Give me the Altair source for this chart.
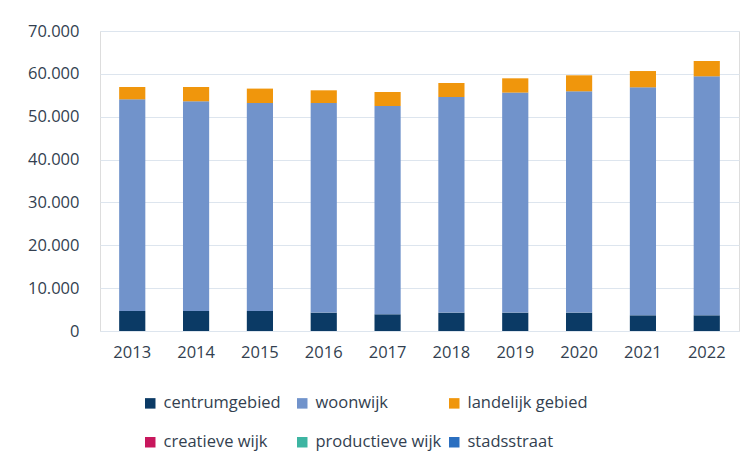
import altair as alt
import pandas as pd

years = ["2013", "2014", "2015", "2016", "2017", "2018", "2019", "2020", "2021", "2022"]
centrumgebied = [4670, 4670, 4670, 4290, 3900, 4290, 4290, 4290, 3660, 3660]
woonwijk = [49390, 48930, 48530, 48910, 48600, 50310, 51340, 51640, 53200, 55770]
landelijk = [2870, 3330, 3360, 2960, 3270, 3270, 3330, 3730, 3800, 3570]
creatieve = [0] * 10
productieve = [0] * 10
stadsstraat = [0] * 10

categories = ["centrumgebied", "woonwijk", "landelijk gebied",
              "creatieve wijk", "productieve wijk", "stadsstraat"]
colors = ["#0b3a65", "#7193cb", "#f0960c", "#c8175d", "#3db5a2", "#2b6fc0"]
series = [centrumgebied, woonwijk, landelijk, creatieve, productieve, stadsstraat]

# legend is filled column by column (2 rows), so interleave the rows
legend_order = [0, 3, 1, 4, 2, 5]
dom = [categories[i] for i in legend_order]
rng = [colors[i] for i in legend_order]

rows = []
for ci, (cat, vals) in enumerate(zip(categories, series)):
    for y, v in zip(years, vals):
        rows.append({"jaar": y, "categorie": cat, "waarde": v, "volg": ci})
df = pd.DataFrame(rows)

txt = "#333f50"
font = "Open Sans"

chart = alt.Chart(df).mark_bar().encode(
    x=alt.X("jaar:N", sort=years, title=None,
            scale=alt.Scale(paddingInner=0.59, paddingOuter=0.3),
            axis=alt.Axis(labelAngle=0, domain=False, ticks=False, labelPadding=13,
                          labelFontSize=16.5, labelColor=txt, labelFont=font)),
    y=alt.Y("waarde:Q", title=None, stack="zero",
            scale=alt.Scale(domain=[0, 70000]),
            axis=alt.Axis(values=[0, 10000, 20000, 30000, 40000, 50000, 60000, 70000],
                          format=",.0f", domain=False, ticks=False, labelPadding=21,
                          labelFontSize=16.5, labelColor=txt, labelFont=font,
                          gridColor="#dde5ee", gridWidth=1.2)),
    color=alt.Color("categorie:N",
                    scale=alt.Scale(domain=dom, range=rng),
                    legend=alt.Legend(title=None, orient="none", legendX=42, legendY=364,
                                      columns=3, symbolType="square", symbolSize=110,
                                      symbolStrokeWidth=0, labelFontSize=16.5,
                                      labelColor=txt, labelFont=font, rowPadding=22,
                                      columnPadding=4, labelOffset=5, gridAlign="all",
                                      labelLimit=300)),
    order=alt.Order("volg:Q", sort="ascending"),
).properties(
    width=639, height=300,
    autosize=alt.AutoSizeParams(type="none"),
    padding={"left": 92, "top": 23, "right": 8, "bottom": 120},
).configure_view(stroke=None).configure(
    locale={"number": {"decimal": ",", "thousands": ".", "grouping": [3], "currency": ["€", ""]}}
)

chart.save("out.html", embed_options={"renderer": "svg", "actions": False})
